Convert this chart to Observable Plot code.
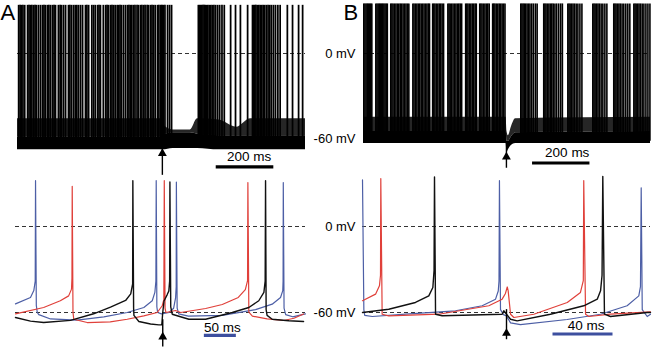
<!DOCTYPE html>
<html><head><meta charset="utf-8">
<script src="https://cdn.jsdelivr.net/npm/d3@7"></script>
<script src="https://cdn.jsdelivr.net/npm/@observablehq/plot@0.6"></script>
<style>
html,body{margin:0;padding:0;background:#fff;}
#fig{position:relative;width:652px;height:354px;overflow:hidden;font-family:"Liberation Sans",Arial,sans-serif;}
#fig svg{position:absolute;}
</style></head><body><div id="fig"></div>
<script>
// ---------- DATA ----------
// Top panels: spike times (ms) of superimposed trials, 1000 ms sweeps, stimulus near 500 ms
const spikesTopA = [4, 9, 14, 19, 25, 35, 40, 45, 50, 56, 61, 66, 73, 80, 87, 92, 97, 104, 109, 115, 122, 127, 132, 142, 148, 153, 160, 167, 177, 182, 188, 195, 201, 206, 212, 219, 226, 236, 241, 247, 258, 264, 270, 278, 283, 288, 298, 306, 311, 316, 323, 328, 333, 339, 346, 351, 356, 361, 368, 375, 382, 387, 392, 397, 403, 408, 415, 420, 427, 432, 438, 443, 450, 455, 462, 467, 472, 478, 486, 491, 497, 500, 503, 507, 512, 521, 528, 535,
  628, 632, 636, 640, 644, 648, 652, 656, 661, 666, 671, 676, 682, 688, 695, 702, 710, 718, 740, 757, 774, 799,
  816, 820, 824, 828, 833, 838, 843, 848, 853, 858, 864, 870, 876, 882, 889, 896, 904, 912, 937, 955, 976, 990];
const spikesTopB = [1, 5, 9, 13, 17, 21, 25, 29, 43, 47, 51, 55, 59, 63, 67, 71, 75, 79, 83,
  95, 99, 103, 108, 113, 118, 123, 128, 133, 138, 143, 148, 153, 158, 172, 176, 181, 186, 191, 196, 201, 206, 211, 216, 221, 226, 230,
  241, 245, 249, 254, 259, 264, 269, 274, 279, 294, 298, 302, 307, 312, 317, 322, 327, 332, 337, 342,
  356, 360, 364, 369, 374, 379, 384, 389, 393, 405, 409, 413, 418, 423, 428, 433, 438, 450, 454, 458, 463, 468, 473, 478, 483, 488, 493,
  548, 552, 556, 560, 565, 570, 575, 580, 586, 592, 599, 605,
  628, 632, 636, 641, 646, 651, 656, 661, 667, 673, 680, 687, 693,
  712, 716, 720, 725, 730, 735, 741, 747, 754, 761,
  799, 803, 807, 812, 817, 822, 828, 834, 841, 848,
  872, 876, 880, 885, 890, 895, 901, 907, 914, 921, 928,
  942, 946, 950, 955, 960, 965, 971, 977, 984, 991, 998];
const spikePeakA = 34, spikePeakB = 35, spikeFoot = -62;

// Subthreshold envelope of the superimposed trials (mV)
const bandTimeA = [0, 500, 505, 540, 600, 625, 700, 760, 810, 1000];
const bandLowA  = [-68, -68, -68, -67, -67, -67, -68, -68, -68, -68];
const bandMidA  = [-59, -59, -58, -56, -56, -57, -58, -58, -58, -58];
const bandHighA = [-46, -46, -50, -54, -54, -46, -47, -52, -46, -46];
const bandTimeB = [0, 497, 500, 505, 515, 530, 1000];
const bandLowB  = [-63.5, -63.5, -70, -68, -65, -63.5, -63.5];
const bandMidB  = [-55, -55, -62, -62, -59, -56, -55];
const bandHighB = [-45, -45, -55, -58, -52, -46, -45];

// Bottom panel A: three example trials [ms, mV]
const blueA = [[0,-54],[23.4,-49.5],[28.6,-44.7],[30.8,-38],[31.3,32],[32.5,-55],[34,-60],[36.4,-61.5],[54.7,-64.5],[96,-65.3],[138,-63],[174.5,-60],[200.5,-56.5],[213.6,-51.8],[217.7,-46],[219.3,-38],[219.8,32],[220.8,-56],[222,-60],[228,-61],[240,-60],[247,-57],[250,-50],[251,-42],[251.3,31],[252.5,-57],[255,-61],[270,-62.5],[323,-62],[375,-58],[401,-54.2],[414,-49.5],[417.5,-44.7],[418,-38],[418.3,30.7],[419.5,-57],[422,-61.5],[433,-63],[453,-61]];
const redA = [[0,-61],[44,-56.5],[70,-51.8],[83,-48.4],[87.5,-43.7],[88.2,-36],[88.6,28],[89.8,-60],[91,-64.7],[112,-67],[148,-66.5],[174.5,-64.7],[200.5,-62.3],[221.4,-60],[229.2,-55.3],[231.7,-51],[232.4,32],[233.6,-57],[235,-60],[250,-58.6],[258,-60],[297,-57.2],[323,-54.4],[348,-49.5],[359,-44],[362.5,-37.7],[363,30.7],[364.5,-59.8],[370,-62.5],[393,-64.5],[419,-65.6],[435,-64],[450,-61]];
const blackA = [[0,-63.5],[23.4,-66],[44,-67],[86,-65.5],[122,-60.9],[148.4,-56.3],[172,-51.6],[180,-47],[183,-40],[183.3,32],[184.5,-57],[185,-62],[192.7,-66.3],[211,-68],[224,-68.6],[228.5,-68.6],[230,-60],[232,-52],[237,-47.5],[239.5,-45],[240.8,-38],[241.2,31],[242.5,-56],[244.8,-61.2],[270.8,-64.7],[297,-64.7],[338.6,-60],[364.5,-56.5],[380,-51.8],[388,-46],[390,-38],[390.6,32],[391.5,-58],[393,-62],[401,-64.7],[427,-65.8],[450,-66.3]];
// Bottom panel B: three example trials [ms, mV]
const blueB = [[0,32.6],[0.9,-58],[1.5,-62],[6.5,-62.8],[28.7,-61.2],[62,-58.8],[79.8,-55.3],[88.7,-50.7],[90.5,-45],[91,-38],[91.3,32],[92,-58],[94,-61.5],[96,-62.5],[98.7,-67.2],[105.3,-68.4],[136.4,-64.9],[158.7,-61.2],[176.4,-55.3],[184.2,-48.4],[185.3,-42],[185.8,27],[186.5,-58],[189.8,-62.8],[192,-61.2]];
const redB = [[0,-51.8],[8.7,-47.2],[11.3,-41.4],[12,-34],[12.2,33.5],[13.1,-61.2],[17.5,-62.3],[50.9,-61.2],[84.2,-55.3],[93.1,-50.7],[95.3,-46.7],[96.5,-42.2],[97.1,-44.7],[98.7,-61.2],[100.9,-63.5],[114.2,-61.2],[136.5,-53],[145.3,-46],[147.2,-37.7],[147.5,32],[148.7,-61.2],[150.9,-62.8],[165.3,-61.2],[192,-59.5]];
const blackB = [[0,-60],[17.5,-57.7],[35.3,-53],[44.2,-48.4],[46.9,-42.6],[47.7,-30.7],[48,34.5],[48.7,-61.2],[53.1,-62.3],[93.1,-61.2],[94.2,-58.8],[98.7,-64.7],[103.1,-65.8],[125.3,-61.2],[147.5,-55.3],[156.5,-50.7],[158.7,-44.9],[159.7,-34],[160.2,35],[161.3,-61.2],[165.3,-62.8],[189.8,-60],[192,-60]];

// Stimulus arrows (ms, mV) and scale bars
const stimTopA = {t: 503, tail: -86, head: -70.5, top: -63};
const stimTopB = {t: 498, tail: -81, head: -73, top: -63.5};
const stimBotA = {t: 230, tail: -84, head: -77, top: -65};
const stimBotB = {t: 96, tail: -79, head: -74.5, top: -58};
const barTopA = {start: 690, len: 200, v: -80, tv: -72.7, label: "200 ms"};
const barTopB = {start: 589, len: 200, v: -77.3, tv: -70.2, label: "200 ms"};
const barBotA = {start: 295, len: 50, v: -76, tv: -70.5, label: "50 ms"};
const barBotB = {start: 127, len: 40, v: -75, tv: -69, label: "40 ms"};
const mvLabels = [{v: 0, label: "0 mV"}, {v: -60, label: "-60 mV"}];
const refLevelsTop = [0];
const refLevelsBot = [0, -60];

// ---------- DRAWING ----------
const fig = document.getElementById("fig");
const FONT = '"Liberation Sans", Arial, sans-serif';
const base = {margin: 0, style: {background: "transparent", overflow: "visible", fontFamily: FONT, color: "black"}};
const toRows = pts => pts.map(([t, v]) => ({t, v}));
const band = (T, L, M, H) => T.map((t, i) => ({t, lo: L[i], mid: M[i], hi: H[i]}));
const BLUE = "#4d5fa6", RED = "#e0403a", BARBLUE = "#3d4f9f";

function stimMarks(s) {
  return [
    Plot.ruleX([s], {x: "t", y1: "tail", y2: "top", stroke: "#000", strokeWidth: 1.4}),
    Plot.dot([s], {x: "t", y: "head", symbol: "triangle", r: 3.3, fill: "#000", stroke: "none"})
  ];
}
function barMarks(b, color, dx) {
  return [
    Plot.ruleY([b], {x1: "start", x2: d => d.start + d.len, y: "v", stroke: color, strokeWidth: 3.2}),
    Plot.text([b], {x: d => d.start + d.len / 2, y: "tv", text: "label", fontSize: 13.5, dx: dx, fill: "#000"})
  ];
}
function place(svg, left, top) {
  svg.style.left = left + "px"; svg.style.top = top + "px"; fig.appendChild(svg);
}

// Top A
place(Plot.plot({...base, width: 362, height: 176,
  x: {domain: [0, 1000], range: [17, 305], axis: null},
  y: {domain: [-60, 0], range: [138, 53], axis: null},
  marks: [
    Plot.ruleY(refLevelsTop, {x1: 0, x2: 1000, stroke: "#333", strokeDasharray: "4,3"}),
    Plot.areaY(band(bandTimeA, bandLowA, bandMidA, bandHighA), {x: "t", y1: "lo", y2: "mid", fill: "#000", curve: "monotone-x"}),
    Plot.areaY(band(bandTimeA, bandLowA, bandMidA, bandHighA), {x: "t", y1: "mid", y2: "hi", fill: "#000", fillOpacity: 0.85, curve: "monotone-x"}),
    Plot.ruleX(spikesTopA, {x: d => d, y1: spikeFoot, y2: spikePeakA, stroke: "#000", strokeWidth: 1.75}),
    ...stimMarks(stimTopA),
    ...barMarks(barTopA, "#000", 4),
    Plot.text(["A"], {frameAnchor: "top-left", textAnchor: "start", lineAnchor: "top", dx: 0, dy: 4, fontSize: 22}),
    Plot.text(mvLabels, {y: "v", text: "label", frameAnchor: "right", textAnchor: "end", dx: -7, fontSize: 13})
  ]}), 0, 0);

// Top B
place(Plot.plot({...base, width: 312, height: 176,
  x: {domain: [0, 1000], range: [23, 310], axis: null},
  y: {domain: [-60, 0], range: [138, 53], axis: null},
  marks: [
    Plot.ruleY(refLevelsTop, {x1: 0, x2: 1000, stroke: "#333", strokeDasharray: "4,3"}),
    Plot.areaY(band(bandTimeB, bandLowB, bandMidB, bandHighB), {x: "t", y1: "lo", y2: "mid", fill: "#000", curve: "monotone-x"}),
    Plot.areaY(band(bandTimeB, bandLowB, bandMidB, bandHighB), {x: "t", y1: "mid", y2: "hi", fill: "#000", fillOpacity: 0.85, curve: "monotone-x"}),
    Plot.ruleX(spikesTopB, {x: d => d, y1: spikeFoot, y2: spikePeakB, stroke: "#000", strokeWidth: 1.6}),
    ...stimMarks(stimTopB),
    ...barMarks(barTopB, "#000", 6),
    Plot.text(["B"], {frameAnchor: "top-left", textAnchor: "start", lineAnchor: "top", dx: 3, dy: 4, fontSize: 22})
  ]}), 340, 0);

// Bottom A
place(Plot.plot({...base, width: 362, height: 178,
  x: {domain: [0, 453], range: [15, 305], axis: null},
  y: {domain: [-60, 0], range: [136, 50], axis: null},
  marks: [
    Plot.ruleY(refLevelsBot, {x1: 0, x2: 453, stroke: "#333", strokeDasharray: "4,3"}),
    Plot.line(toRows(blueA), {x: "t", y: "v", stroke: BLUE, strokeWidth: 1.2}),
    Plot.line(toRows(redA), {x: "t", y: "v", stroke: RED, strokeWidth: 1.2}),
    Plot.line(toRows(blackA), {x: "t", y: "v", stroke: "#111", strokeWidth: 1.4}),
    ...stimMarks(stimBotA),
    ...barMarks(barBotA, BARBLUE, 2),
    Plot.text(mvLabels, {y: "v", text: "label", frameAnchor: "right", textAnchor: "end", dx: -7, fontSize: 13})
  ]}), 0, 176);

// Bottom B
place(Plot.plot({...base, width: 312, height: 178,
  x: {domain: [0, 192], range: [22, 310], axis: null},
  y: {domain: [-60, 0], range: [136, 50], axis: null},
  marks: [
    Plot.ruleY(refLevelsBot, {x1: 0, x2: 192, stroke: "#333", strokeDasharray: "4,3"}),
    Plot.line(toRows(blueB), {x: "t", y: "v", stroke: BLUE, strokeWidth: 1.2}),
    Plot.line(toRows(redB), {x: "t", y: "v", stroke: RED, strokeWidth: 1.2}),
    Plot.line(toRows(blackB), {x: "t", y: "v", stroke: "#111", strokeWidth: 1.4}),
    ...stimMarks(stimBotB),
    ...barMarks(barBotB, BARBLUE, 3)
  ]}), 340, 176);
</script></body></html>
